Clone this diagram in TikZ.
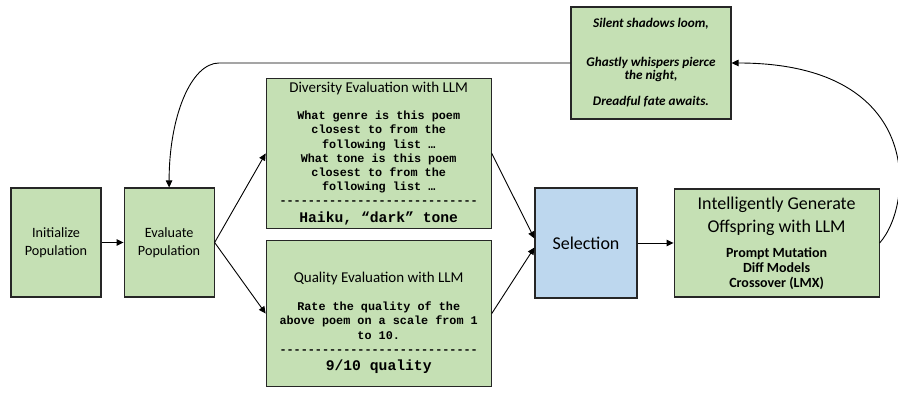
\documentclass[tikz,border=0pt]{standalone}
\usepackage{fontspec}
\setmainfont{Carlito}
\setmonofont{Liberation Mono}
\usetikzlibrary{positioning,arrows.meta}
\definecolor{boxgreen}{RGB}{197,224,180}
\definecolor{boxblue}{RGB}{189,215,238}
\newcommand{\titlefont}{\fontsize{15}{17}\selectfont}
\newcommand{\promptfont}{\ttfamily\bfseries\fontsize{11.8}{14.2}\selectfont}
\newcommand{\resultfont}{\ttfamily\bfseries\fontsize{14.7}{17.3}\selectfont}

\begin{document}
\begin{tikzpicture}[x=1pt,y=1pt,
	box/.style={draw=black!85,line width=1.1pt,fill=boxgreen,align=flush center,inner sep=2pt,
		execute at begin node={\spaceskip=0pt\relax\xspaceskip=0pt\relax}},
	popbox/.style={box,minimum width=90pt,minimum height=109pt,font=\fontsize{14.2}{18}\selectfont},
	llmbox/.style={box,minimum width=225pt,text width=221pt},
	link/.style={line width=0.9pt,-{Triangle[length=7pt,width=6.5pt]}}]
	\useasboundingbox (0,0) rectangle (898,395);
	\node[popbox] (init) at (56,152.5) {Initialize\\Population};
	\node[popbox,right=22pt of init] (eval) {Evaluate\\Population};
	\node[llmbox,minimum height=150pt,above right=13.5pt and 51pt of eval.east] (div) {
		{\titlefont Diversity Evaluation with LLM\par}
		\vspace{13pt}
		{\promptfont What genre is this poem\\closest to from the\\following list …\\What tone is this poem\\closest to from the\\following list …\\----------------------------\par}
		{\resultfont Haiku, “dark” tone\par}};
	\node[llmbox,minimum height=146pt,below=11pt of div] (qual) {\par
		\vspace*{12pt}
		{\titlefont Quality Evaluation with LLM\par}
		\vspace{14pt}
		{\promptfont Rate the quality of the\\above poem on a scale from 1\\to 10.\\----------------------------\par}
		{\resultfont 9/10 quality\par}};
	\node[box,fill=boxblue,minimum width=102pt,minimum height=110pt,font=\fontsize{18}{22}\selectfont] (sel) at (586,152) {Selection};
	\node[box,minimum width=205pt,minimum height=108pt,text width=201pt,right=36pt of sel] (off) {
		{\fontsize{18}{22.7}\selectfont Intelligently Generate\\Offspring with LLM\par}
		\vspace{10pt}
		{\bfseries\fontsize{14}{15}\selectfont Prompt Mutation\\Diff Models\\Crossover (LMX)\par}};
	\node[box,minimum width=160pt,minimum height=112pt,text width=156pt,font=\bfseries\itshape\fontsize{13.2}{12.7}\selectfont] (poem) at (651,332) {
		Silent shadows loom,\\[26pt]Ghastly whispers pierce\\the night,\\[14pt]Dreadful fate awaits.};
	\draw[link] (init) -- (eval);
	\draw[link] (eval.east) -- (div.west);
	\draw[link] (eval.east) -- (qual.west);
	\draw[link] (div.east) -- ([yshift=4.5pt]sel.west);
	\draw[link] (qual.east) -- ([yshift=-4.5pt]sel.west);
	\draw[link] (sel) -- (off);
	\draw[link] (off.east) .. controls +(34,38) and +(194,0) .. (poem.east);
	\draw[link] (poem.west) -- ([xshift=50pt]eval.north |- poem.west) .. controls +(-28,0) and +(0,71) .. (eval.north);
\end{tikzpicture}
\end{document}
